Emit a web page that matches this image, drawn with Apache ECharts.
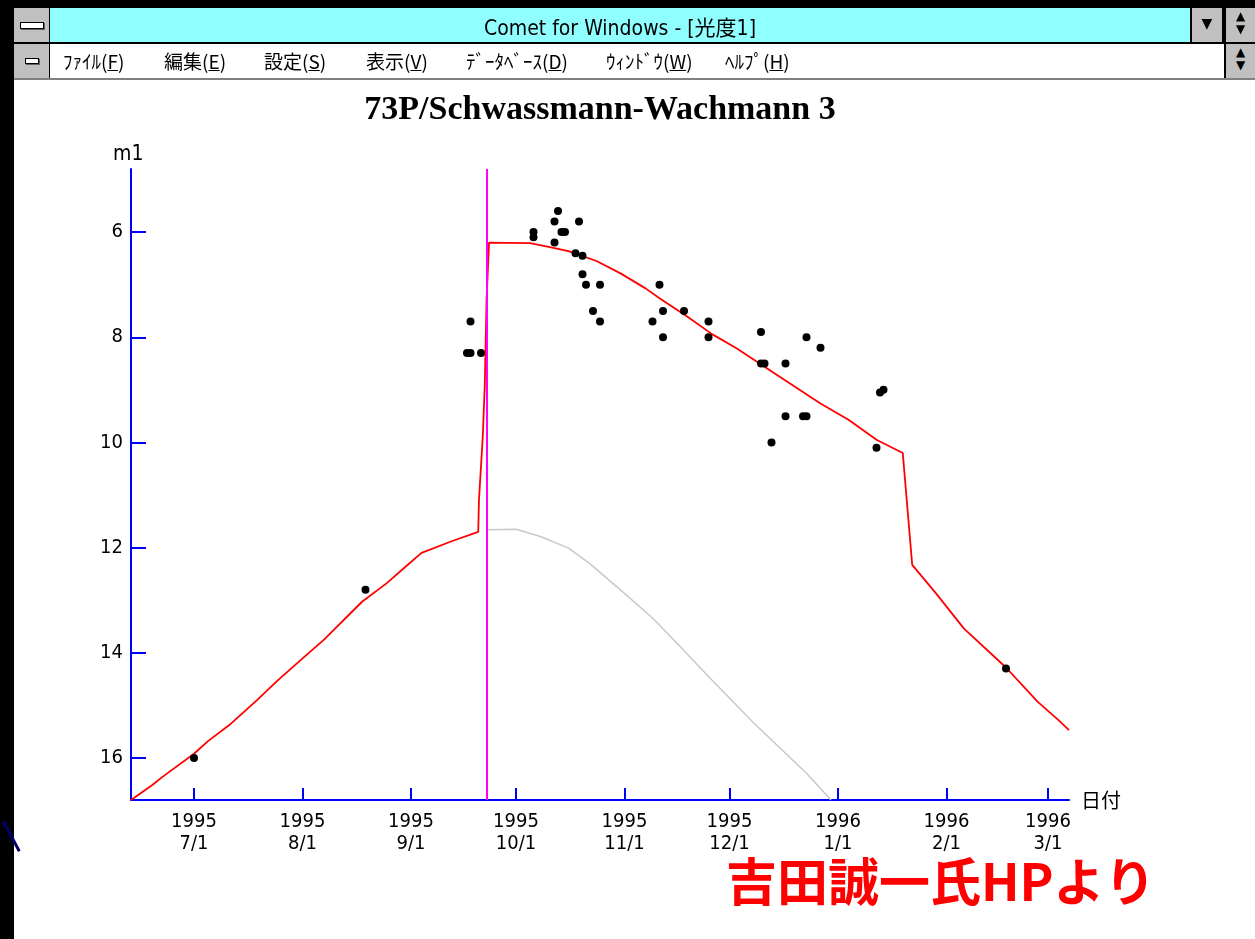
<!DOCTYPE html>
<html>
<head>
<meta charset="utf-8">
<script src="https://cdn.jsdelivr.net/npm/echarts@6/dist/echarts.min.js"></script>
<style>
  html, body { margin:0; padding:0; background:#fff; width:1255px; height:939px; overflow:hidden; }
  #chart { position:absolute; left:0; top:0; width:1255px; height:939px; }
  .c { position:absolute; }
  .ttl { font-family:"Liberation Sans Narrow","DejaVu Sans Condensed","Noto Sans CJK JP",sans-serif; font-size:21px; color:#000; }
  .menu { font-family:"Noto Sans CJK JP",sans-serif; font-size:19px; color:#000; top:48px; line-height:26px; white-space:nowrap; }
  .btn { background:#c0c0c0; }
  .bar { position:absolute; background:#fff; border:1px solid #000; box-shadow:1px 1px 0 #606060; }
  .arr { position:absolute; font-family:"DejaVu Sans",sans-serif; color:#000; text-align:center; }
</style>
</head>
<body>
<div id="chart"></div>

<!-- window chrome -->
<div class="c" style="left:0;top:0;width:1255px;height:8px;background:#000"></div>
<div class="c" style="left:0;top:0;width:14px;height:939px;background:#000"></div>
<div class="c" style="left:2px;top:822px;width:3px;height:34px;background:#000066;transform:rotate(-28deg);transform-origin:0 0"></div>
<div class="c" style="left:50px;top:8px;width:1140px;height:34px;background:#90ffff"></div>
<div class="c ttl" style="left:50px;top:11px;width:1140px;text-align:center">Comet for Windows - [光度1]</div>
<div class="c btn" style="left:14px;top:8px;width:35px;height:34px"><div class="bar" style="left:6px;top:14px;width:22px;height:5px"></div></div>
<div class="c" style="left:49px;top:8px;width:1px;height:34px;background:#000"></div>
<div class="c" style="left:1190px;top:8px;width:2px;height:34px;background:#000"></div>
<div class="c btn" style="left:1192px;top:8px;width:30px;height:34px"><div class="arr" style="left:0;top:7px;width:30px;font-size:14px">▼</div></div>
<div class="c" style="left:1222px;top:8px;width:4px;height:34px;background:#000"></div>
<div class="c btn" style="left:1226px;top:8px;width:29px;height:34px"><div class="arr" style="left:0;top:2px;width:29px;font-size:12px;line-height:13px">▲<br>▼</div></div>
<div class="c" style="left:14px;top:42px;width:1241px;height:2px;background:#000"></div>
<div class="c btn" style="left:14px;top:44px;width:35px;height:34px"><div class="bar" style="left:11px;top:14px;width:12px;height:4px"></div></div>
<div class="c" style="left:49px;top:44px;width:1px;height:34px;background:#000"></div>
<div class="c menu" style="left:63px">ﾌｧｲﾙ(<u>F</u>)</div>
<div class="c menu" style="left:164px">編集(<u>E</u>)</div>
<div class="c menu" style="left:264px">設定(<u>S</u>)</div>
<div class="c menu" style="left:366px">表示(<u>V</u>)</div>
<div class="c menu" style="left:466px">ﾃﾞｰﾀﾍﾞｰｽ(<u>D</u>)</div>
<div class="c menu" style="left:606px">ｳｨﾝﾄﾞｳ(<u>W</u>)</div>
<div class="c menu" style="left:725px">ﾍﾙﾌﾟ(<u>H</u>)</div>
<div class="c" style="left:1224px;top:44px;width:2px;height:34px;background:#000"></div>
<div class="c btn" style="left:1226px;top:44px;width:29px;height:34px"><div class="arr" style="left:0;top:2px;width:29px;font-size:12px;line-height:13px">▲<br>▼</div></div>
<div class="c" style="left:14px;top:78px;width:1241px;height:2px;background:#808080"></div>

<script>
// ---- data ----
const chartTitle = '73P/Schwassmann-Wachmann 3';
const monthTicks = ['1995-07-01','1995-08-01','1995-09-01','1995-10-01','1995-11-01','1995-12-01','1996-01-01','1996-02-01','1996-03-01'];
const magTicks = [6, 8, 10, 12, 14, 16];
const dateRange = ['1995-06-13', '1996-03-07'];
const perihelionDate = '1995-09-22T14:00';

// observed magnitudes (black dots)
const obsDates = [
  '1995-07-01','1995-08-19','1995-09-17','1995-09-18','1995-09-18','1995-09-21',
  '1995-10-06','1995-10-06','1995-10-13','1995-10-12','1995-10-19','1995-10-14','1995-10-15','1995-10-12',
  '1995-10-18','1995-10-20','1995-10-20','1995-10-21','1995-10-25','1995-10-23','1995-10-25',
  '1995-11-11','1995-11-12','1995-11-09','1995-11-12','1995-11-18','1995-11-25','1995-11-25',
  '1995-12-10','1995-12-10','1995-12-11','1995-12-17','1995-12-23','1995-12-27',
  '1995-12-17','1995-12-22','1995-12-23','1995-12-13',
  '1996-01-12','1996-01-13','1996-01-14','1996-02-18'
];
const obsMags = [
  16.0, 12.8, 8.3, 8.3, 7.7, 8.3,
  6.0, 6.1, 5.6, 5.8, 5.8, 6.0, 6.0, 6.2,
  6.4, 6.45, 6.8, 7.0, 7.0, 7.5, 7.7,
  7.0, 7.5, 7.7, 8.0, 7.5, 7.7, 8.0,
  7.9, 8.5, 8.5, 8.5, 8.0, 8.2,
  9.5, 9.5, 9.5, 10.0,
  10.1, 9.05, 9.0, 14.3
];

// fitted light curve (red)
const fitDates = [
  '1995-06-13','1995-06-19','1995-06-22','1995-07-01','1995-07-05','1995-07-11','1995-07-19','1995-07-25',
  '1995-08-02','1995-08-07','1995-08-18','1995-08-25','1995-08-31','1995-09-04','1995-09-13',
  '1995-09-20T05:00','1995-09-20T10:00','1995-09-21T12:00','1995-09-22T02:00','1995-09-22T14:00','1995-09-23T07:00',
  '1995-10-05','1995-10-11','1995-10-16','1995-10-24','1995-10-31','1995-11-07','1995-11-11','1995-11-19',
  '1995-11-26','1995-12-03','1995-12-11','1995-12-21','1995-12-27','1996-01-04','1996-01-12',
  '1996-01-19T12:00','1996-01-22T05:00','1996-01-29','1996-02-06','1996-02-18','1996-02-27','1996-03-04','1996-03-07'
];
const fitMags = [
  16.80, 16.52, 16.36, 15.92, 15.68, 15.38, 14.90, 14.52,
  14.05, 13.76, 13.03, 12.68, 12.33, 12.10, 11.87,
  11.70, 11.10, 9.90, 8.90, 7.30, 6.20,
  6.21, 6.29, 6.36, 6.55, 6.79, 7.07, 7.26, 7.61,
  7.94, 8.21, 8.56, 9.00, 9.26, 9.57, 9.95,
  10.20, 12.33, 12.87, 13.54, 14.28, 14.93, 15.28, 15.47
];

// predicted curve without outburst (grey)
const predDates = [
  '1995-09-22T12:00','1995-10-01','1995-10-08','1995-10-16','1995-10-22','1995-11-01',
  '1995-11-09','1995-11-16','1995-11-25','1995-12-08','1995-12-23','1995-12-30'
];
const predMags = [11.66, 11.65, 11.79, 12.01, 12.30, 12.87, 13.34, 13.82, 14.45, 15.34, 16.29, 16.80];

// date string -> timestamp (local time)
function ts(s) {
  const m = s.match(/^(\d+)-(\d+)-(\d+)(?:T(\d+):(\d+))?$/);
  return new Date(+m[1], +m[2] - 1, +m[3], m[4] ? +m[4] : 0, m[5] ? +m[5] : 0).getTime();
}
const zip = (a, b) => a.map((d, i) => [ts(d), b[i]]);

const chart = echarts.init(document.getElementById('chart'), null, { renderer: 'canvas' });
const blue = '#0000ff';
const numFont = '"Liberation Sans Narrow","DejaVu Sans Condensed",sans-serif';
const tickTs = monthTicks.map(ts);

chart.setOption({
  animation: false,
  backgroundColor: 'transparent',
  title: {
    text: chartTitle,
    left: 600, top: 93, textAlign: 'center', padding: 0,
    textStyle: { fontFamily: '"Liberation Serif",serif', fontSize: 34, fontWeight: 'bold', color: '#000' }
  },
  grid: { left: 131, top: 169, width: 938, height: 631, outerBoundsMode: 'none' },
  xAxis: {
    type: 'value',
    min: ts(dateRange[0]), max: ts(dateRange[1]),
    name: '日付', nameLocation: 'end', nameGap: 12,
    nameTextStyle: { fontFamily: '"Noto Sans CJK JP",sans-serif', fontSize: 20, color: '#000', verticalAlign: 'middle' },
    axisLine: { show: true, lineStyle: { color: blue, width: 2 } },
    axisTick: { show: true, inside: true, length: 12, lineStyle: { color: blue, width: 2 }, customValues: tickTs },
    axisLabel: {
      customValues: tickTs, margin: 11, lineHeight: 22,
      fontFamily: numFont, fontSize: 20, color: '#000',
      formatter: v => { const d = new Date(v); return d.getFullYear() + '\n' + (d.getMonth() + 1) + '/' + d.getDate(); }
    },
    splitLine: { show: false }
  },
  yAxis: {
    type: 'value', inverse: true, min: 4.8, max: 16.8,
    axisLine: { show: true, lineStyle: { color: blue, width: 2 } },
    axisTick: { show: true, inside: true, length: 15, lineStyle: { color: blue, width: 2 }, customValues: magTicks },
    axisLabel: { customValues: magTicks, margin: 8, fontFamily: numFont, fontSize: 20, color: '#000' },
    splitLine: { show: false }
  },
  graphic: [
    { type: 'text', left: 113, top: 144, style: { text: 'm1', font: '21px ' + numFont, fill: '#000' } },
    { type: 'text', left: 726, top: 856, style: { text: '吉田誠一氏HPより', font: 'bold 51px "Noto Sans CJK JP",sans-serif', fill: '#ff0000' } }
  ],
  series: [
    {
      name: 'predicted', type: 'line', data: zip(predDates, predMags),
      symbol: 'none', lineStyle: { color: '#c8c8c8', width: 1.5 }, z: 2
    },
    {
      name: 'fit', type: 'line', data: zip(fitDates, fitMags),
      symbol: 'none', lineStyle: { color: '#ff0000', width: 1.8 }, z: 3,
      markLine: {
        symbol: 'none', silent: true, label: { show: false },
        lineStyle: { color: '#ff00ff', width: 2, type: 'solid' },
        data: [{ xAxis: ts(perihelionDate) }]
      }
    },
    {
      name: 'observed', type: 'scatter', data: zip(obsDates, obsMags),
      symbol: 'circle', symbolSize: 8, itemStyle: { color: '#000', opacity: 1 }, z: 4
    }
  ]
});
</script>
</body>
</html>
